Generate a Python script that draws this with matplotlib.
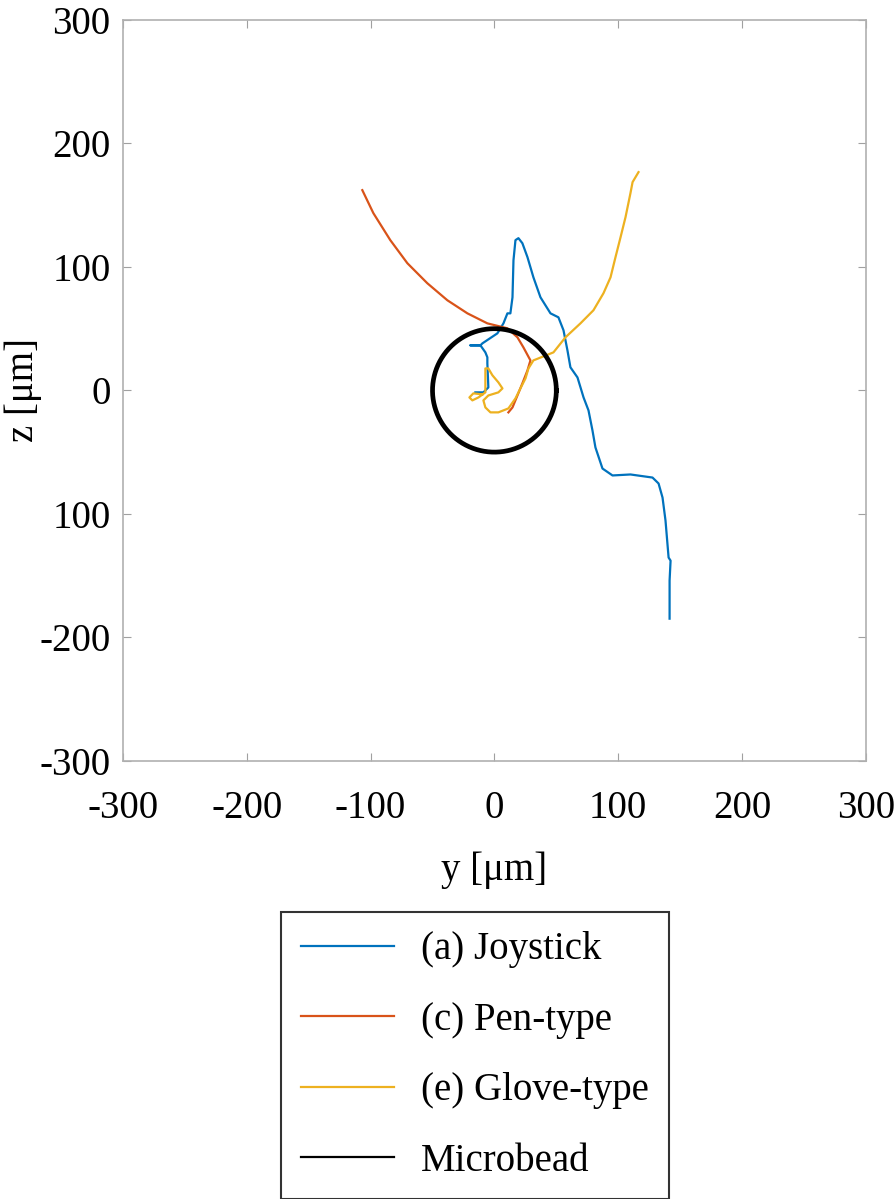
import matplotlib.pyplot as plt
import numpy as np

plt.rcParams['font.family'] = ['Liberation Serif', 'DejaVu Serif']

# trajectories, [um]
joy_y = [-15.4, -8.9, -4.9, -5.7, -5.7, -7.3, -11.3, -19.4, -11.3, -9.7, 2.4, 7.3, 10.5, 12.9, 14.6, 15.4, 17.0, 19.4,
         22.6, 26.7, 31.5, 37.2, 45.3, 51.7, 55.8, 59.0, 61.4, 67.1, 72.0, 76.0, 79.2, 81.6, 87.3, 95.4, 109.9,
         127.7, 132.6, 135.8, 138.2, 140.7, 142.3, 141.5, 141.5]
joy_z = [-1.6, -1.6, 2.4, 21.9, 26.8, 30.8, 36.5, 36.5, 36.5, 38.1, 46.2, 54.3, 62.4, 62.4, 75.4, 105.4, 121.7, 123.3,
         119.2, 107.9, 91.6, 75.4, 62.4, 59.2, 48.7, 32.4, 18.7, 10.5, -5.7, -16.2, -32.4, -46.2, -63.3, -68.9, -68.1,
         -70.6, -75.4, -86.8, -105.4, -135.4, -137.9, -154.1, -184.9]

pen_y = [-106.7, -97.8, -84.1, -70.3, -54.2, -38.0, -21.8, -5.7, 10.5, 18.6, 23.4, 29.1, 26.7, 22.6, 18.6, 14.6, 11.3]
pen_z = [162.2, 143.6, 121.7, 103.0, 86.8, 73.0, 62.4, 54.3, 50.3, 43.0, 34.9, 24.3, 16.2, 5.7, -4.1, -13.8, -17.8]

glove_y = [116.4, 111.6, 109.9, 105.9, 101.9, 97.8, 93.8, 88.1, 80.0, 69.5, 57.4, 47.7, 31.5, 27.5, 25.1, 21.0, 17.0,
           11.3, 3.2, -3.2, -7.3, -8.9, -4.9, 3.2, 6.5, 3.2, -1.6, -4.9, -7.3, -7.3, -7.3, -12.9, -17.8, -20.2,
           -17.0, -9.7]
glove_z = [176.8, 168.7, 159.8, 140.3, 124.1, 107.9, 91.6, 78.7, 64.9, 54.3, 43.0, 30.8, 24.3, 17.8, 9.7, 1.6, -6.5,
           -14.6, -17.8, -17.8, -13.8, -8.1, -4.1, -1.6, 1.6, 6.5, 12.2, 17.8, 17.8, 5.7, -1.6, -5.7, -8.1, -5.7,
           -2.4, -3.2]

bead_r = 50
ticks = [-300, -200, -100, 0, 100, 200, 300]
xlabels = ['-300', '-200', '-100', '0', '100', '200', '300']
ylabels = ['-300', '-200', '100', '0', '100', '200', '300']

fig = plt.figure(figsize=(8.96, 11.99), dpi=100)
ax = fig.add_axes([0.1373, 0.3655, 0.829, 0.6178])

ax.plot(joy_y, joy_z, color='#0072BD', lw=1.6, label='(a) Joystick')
ax.plot(pen_y, pen_z, color='#D95319', lw=1.6, label='(c) Pen-type')
ax.plot(glove_y, glove_z, color='#EDB120', lw=1.6, label='(e) Glove-type')
t = np.linspace(0, 2 * np.pi, 200)
ax.plot(bead_r * np.cos(t), bead_r * np.sin(t), color='black', lw=3.4, label='Microbead')

ax.set_xlim(-300, 300)
ax.set_ylim(-300, 300)
ax.set_xticks(ticks)
ax.set_xticklabels(xlabels)
ax.set_yticks(ticks)
ax.set_yticklabels(ylabels)
ax.tick_params(direction='in', length=6, width=0.8, color='#a0a0a0', labelsize=28, top=True, right=True)
ax.tick_params(axis='x', pad=21)
ax.tick_params(axis='y', pad=9)
for s in ax.spines.values():
    s.set_color('#b0b0b0')
    s.set_linewidth(1.2)

ax.set_xlabel('y [μm]', fontsize=28)
ax.set_ylabel('z [μm]', fontsize=28)
ax.xaxis.set_label_coords(0.5, -0.122)
ax.yaxis.set_label_coords(-0.109, 0.5)

leg = fig.legend(loc='upper center', bbox_to_anchor=(0.530, 0.2394), fontsize=28, frameon=True, fancybox=False,
                 edgecolor='black', handlelength=2.4, handletextpad=0.7, labelspacing=0.86, borderpad=0.5,
                 borderaxespad=0)
leg.get_frame().set_linewidth(1.5)
for h in leg.get_lines():
    h.set_linewidth(1.6)

fig.savefig('out.png', dpi=100)
